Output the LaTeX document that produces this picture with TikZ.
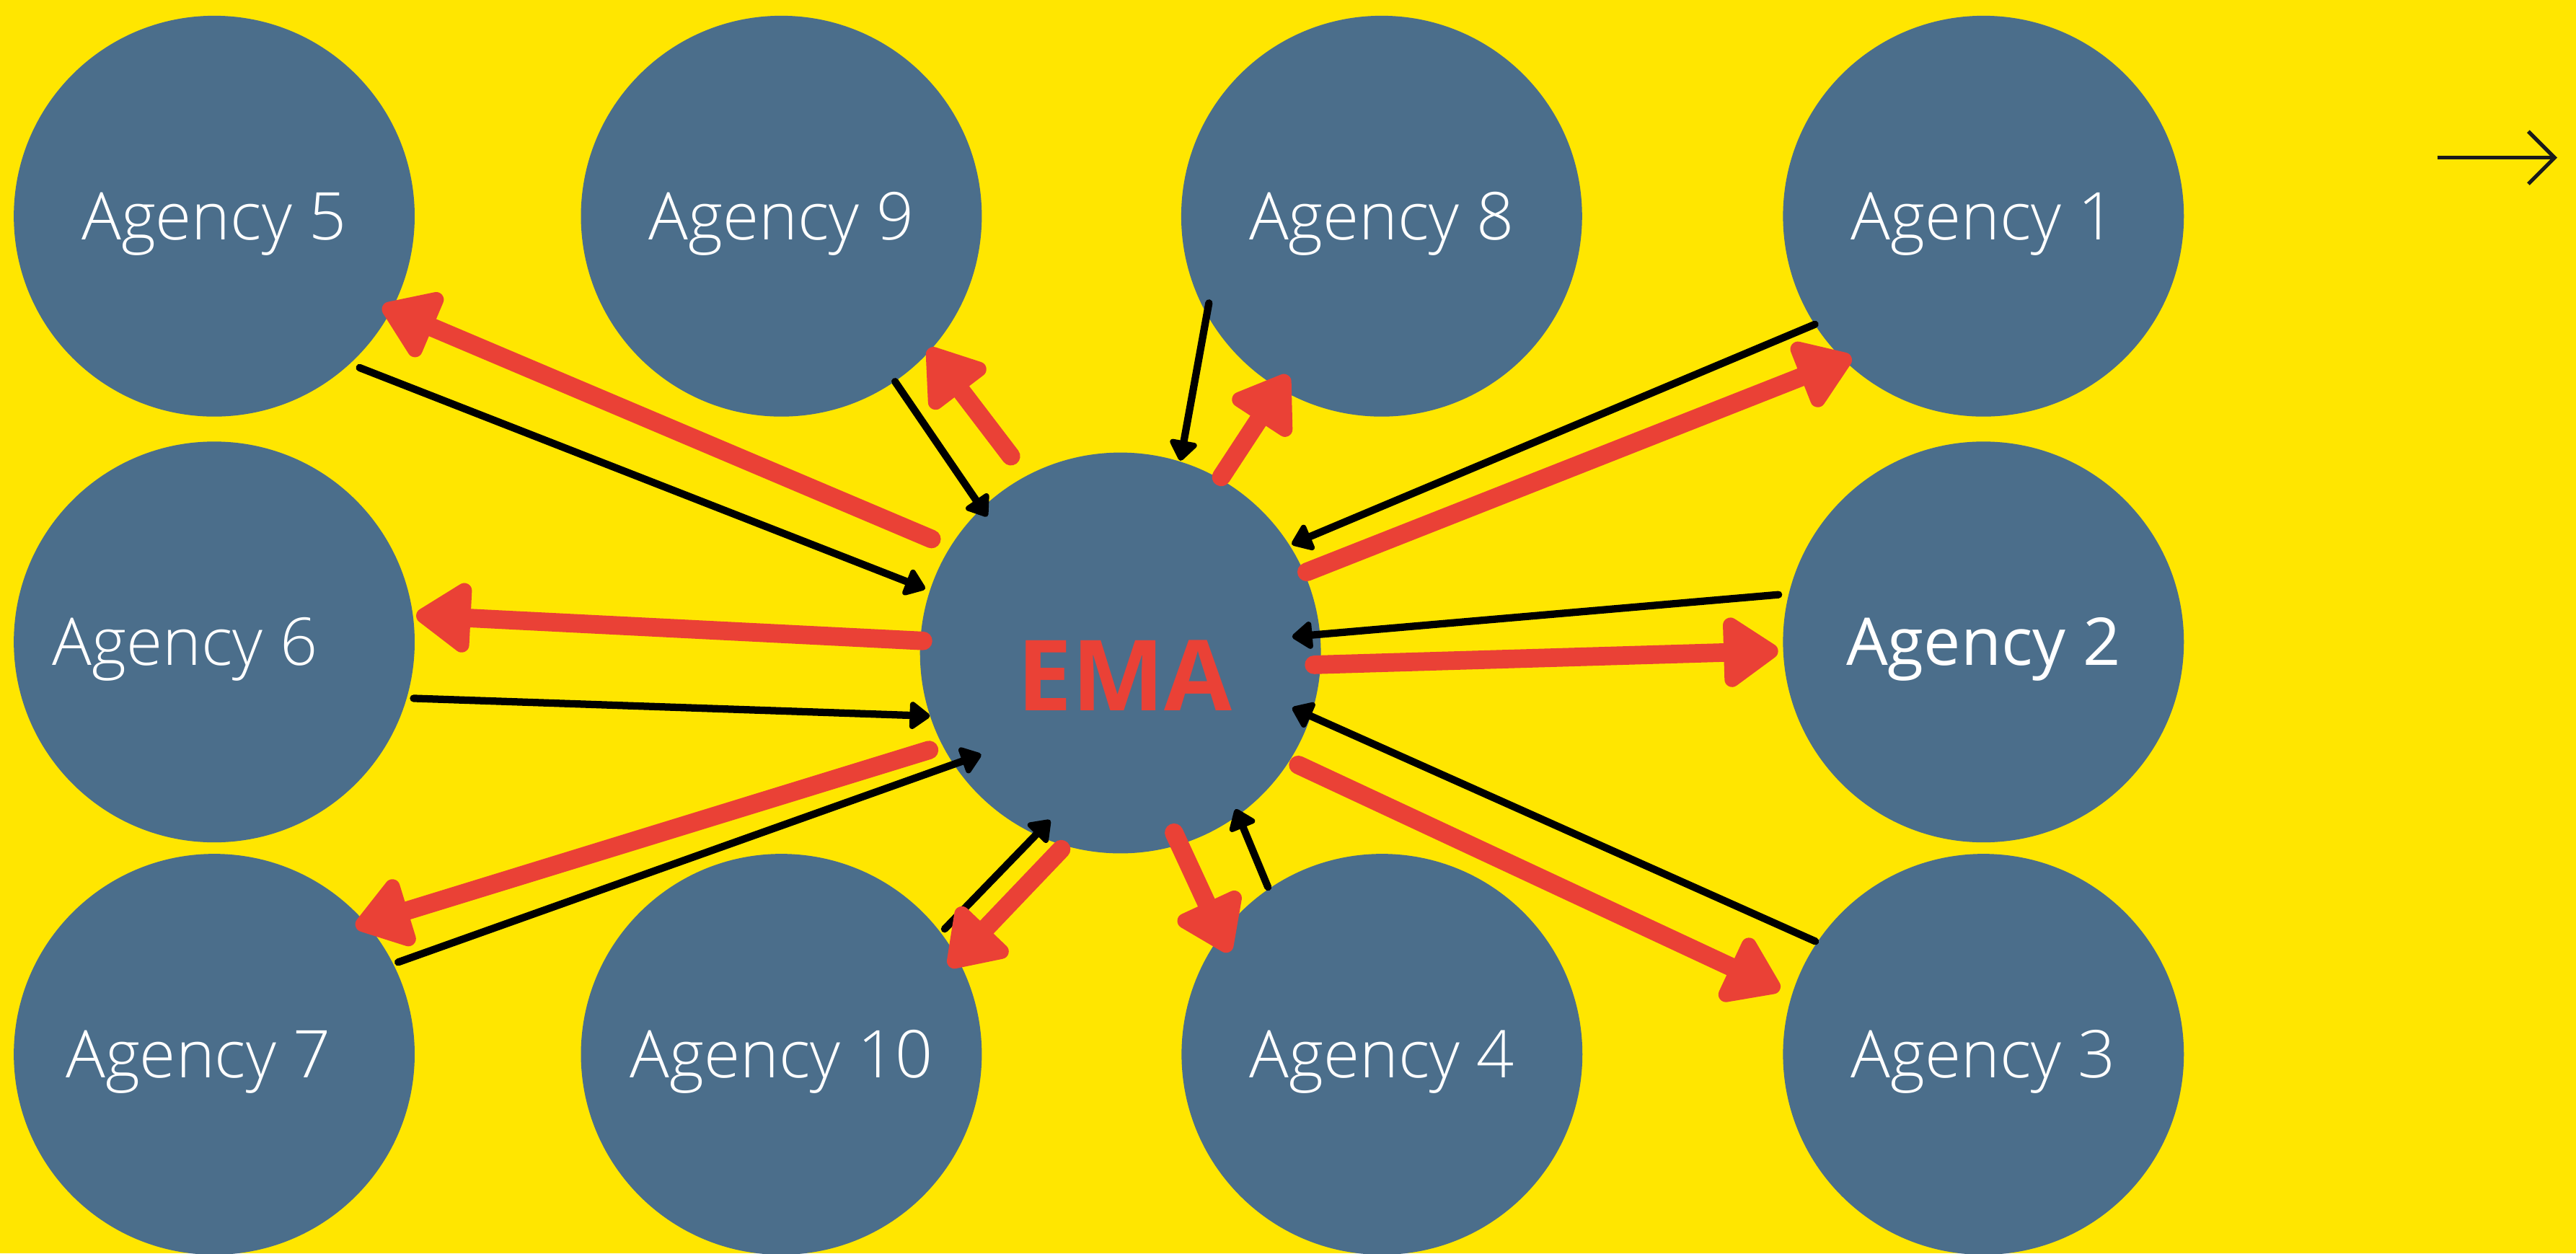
\documentclass[tikz,border=0pt]{standalone}
\usepackage{fontspec}
\setmainfont{Open Sans}
\newfontfamily\lightfont{Open Sans Light}
\usetikzlibrary{arrows.meta,calc}

\definecolor{bgyellow}{HTML}{FFE600}
\definecolor{discblue}{HTML}{4B6E8B}
\definecolor{flowred}{HTML}{EA4136}
\definecolor{inkgray}{HTML}{1A1A1A}

\tikzset{
	agency/.style={circle,fill=discblue,minimum size=244mm,inner sep=0pt,text=white,
		font=\lightfont\fontsize{114}{114}\selectfont,text height=28.6mm,text depth=0pt},
	hubtext/.style={text=flowred,font=\bfseries\fontsize{170}{170}\selectfont,
		text height=42.6mm,text depth=0pt,xshift=2.5mm,yshift=-14mm},
	toema/.style={black,line width=4.5mm,line cap=round,-{Triangle[length=13.5mm,width=19mm,round]}},
	fromema/.style={flowred,line width=11.3mm,line cap=round,-{Triangle[length=37mm,width=48mm,round]}}
}

\begin{document}
\begin{tikzpicture}[x=1mm,y=1mm]
	\useasboundingbox (0,0) rectangle (1568,763);
	\fill[bgyellow] (0,0) rectangle (1568,763);

	% top row
	\node[agency] (a5) at (130.4,631.4) {Agency 5};
	\node[agency] (a9) at (475.6,631.4) {Agency 9};
	\node[agency] (a8) at (841,631.4) {Agency 8};
	\node[agency] (a1) at (1207.3,631.4) {Agency 1};
	% middle row, EMA in the centre
	\node[agency] (a6) at (130.4,372.2) {\hspace*{-35.6mm}Agency 6};
	\node[agency,label={[hubtext]center:EMA}] (ema) at (682,365.5) {};
	\node[agency,font=\fontsize{114}{114}\selectfont] (a2) at (1207.3,372.2) {Agency 2};
	% bottom row
	\node[agency] (a7) at (130.4,121.2) {\hspace*{-19.2mm}Agency 7};
	\node[agency] (a10) at (475.6,121.2) {Agency 10};
	\node[agency] (a4) at (841.2,121.2) {Agency 4};
	\node[agency] (a3) at (1207.3,121.2) {Agency 3};

	% black: agency -> EMA
	\draw[toema] ($(a5)+(-46.2:127.8)$) -- ($(ema)+(161.8:125.1)$);
	\draw[toema] ($(a9)+(-55.5:122.2)$) -- ($(ema)+(134.3:116.1)$);
	\draw[toema] ($(a8)+(206.7:117.7)$) -- ($(ema)+(72.7:122.6)$);
	\draw[toema] ($(a1)+(212.7:121.9)$) -- ($(ema)+(32.4:123.5)$);
	\draw[toema] ($(a6)+(-15.8:126.1)$) -- ($(ema)+(198.3:122.2)$);
	\draw[toema] ($(a2)+(167:128)$) -- ($(ema)+(5.4:105)$);
	\draw[toema] ($(a7)+(26.6:125.2)$) -- ($(ema)+(216.1:104.9)$);
	\draw[toema] ($(a10)+(37.5:125.3)$) -- ($(ema)+(247.2:110.4)$);
	\draw[toema] ($(a4)+(124.3:123.2)$) -- ($(ema)+(306.4:118.1)$);
	\draw[toema] ($(a3)+(146.1:123.3)$) -- ($(ema)+(342.3:109.8)$);

	% red: EMA -> agency
	\draw[fromema] ($(ema)+(148.9:134.3)$) -- ($(a5)+(-28.2:116.2)$);
	\draw[fromema] ($(ema)+(119.1:137.1)$) -- ($(a9)+(-41.9:120.6)$);
	\draw[fromema] ($(ema)+(60.2:123.5)$) -- ($(a8)+(239.5:112.4)$);
	\draw[fromema] ($(ema)+(23.5:123.6)$) -- ($(a1)+(226.9:117.6)$);
	\draw[fromema] ($(ema)+(176.5:120.4)$) -- ($(a6)+(7.5:124)$);
	\draw[fromema] ($(ema)+(-3.5:118.1)$) -- ($(a2)+(182.5:125.1)$);
	\draw[fromema] ($(ema)+(206.9:130.6)$) -- ($(a7)+(42.1:116)$);
	\draw[fromema] ($(ema)+(253.2:124.8)$) -- ($(a10)+(27.6:115.3)$);
	\draw[fromema] ($(ema)+(286.6:114.2)$) -- ($(a4)+(146.2:111.9)$);
	\draw[fromema] ($(ema)+(327.8:127.9)$) -- ($(a3)+(162.4:130)$);

	% arrow in the corner
	\coordinate (cornerfrom) at (1483.5,667);
	\coordinate (cornerto) at (1556.6,667);
	\draw[inkgray,line width=2.3mm,-{Straight Barb[length=16mm,width=32mm]}] (cornerfrom) -- (cornerto);
\end{tikzpicture}
\end{document}
